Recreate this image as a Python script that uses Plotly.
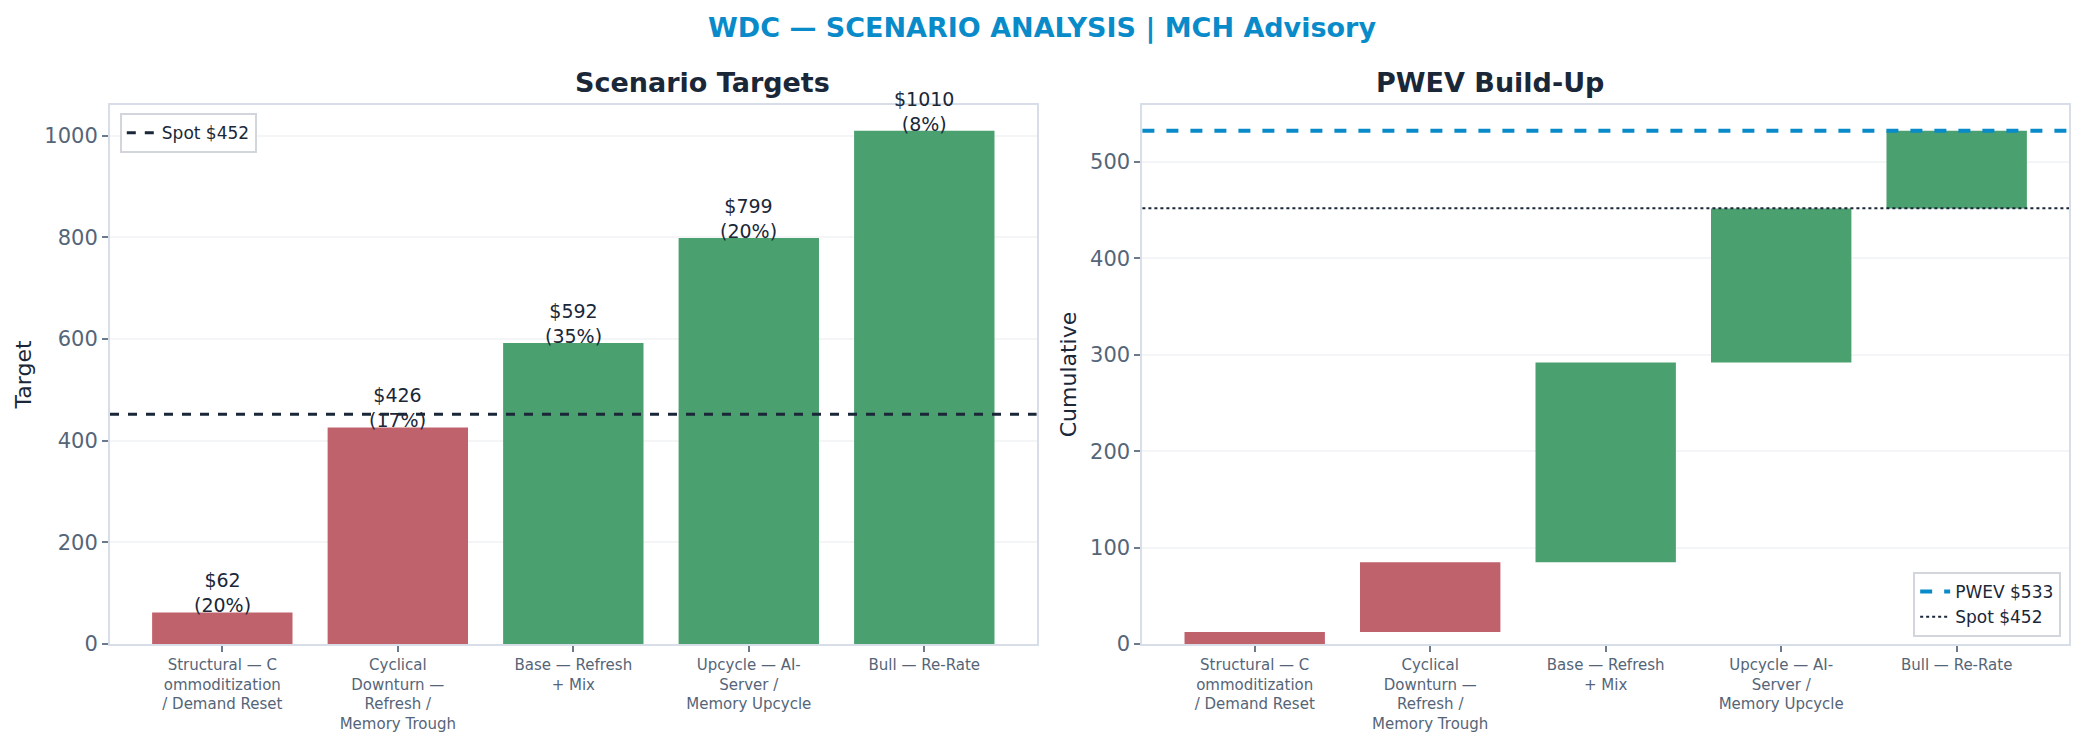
import plotly.graph_objects as go
from plotly.subplots import make_subplots

# scenario data
scenarios = [
    "Structural — C<br>ommoditization<br>/ Demand Reset",
    "Cyclical<br>Downturn —<br>Refresh /<br>Memory Trough",
    "Base — Refresh<br>+ Mix",
    "Upcycle — AI-<br>Server /<br>Memory Upcycle",
    "Bull — Re-Rate",
]
targets = [62, 426, 592, 799, 1010]
probs = [0.20, 0.17, 0.35, 0.20, 0.08]
spot = 452

RED = "#c0626c"
GREEN = "#4aa16f"
BLUE = "#0a8bc9"
DARK = "#1a2738"
TICK = "#556578"
SPINE = "#d8dee8"
FONT = "DejaVu Sans"

colors = [RED if t < spot else GREEN for t in targets]
contrib = [t * p for t, p in zip(targets, probs)]
bases = [sum(contrib[:i]) for i in range(len(contrib))]
pwev = sum(contrib)

fig = make_subplots(rows=1, cols=2, horizontal_spacing=0.054)

fig.add_trace(
    go.Bar(x=scenarios, y=targets, marker=dict(color=colors, line=dict(width=0)),
           showlegend=False, hoverinfo="skip"),
    row=1, col=1,
)
for s, t, p in zip(scenarios, targets, probs):
    fig.add_annotation(
        x=s, y=t, xref="x", yref="y", text=f"${t}<br>({p:.0%})",
        showarrow=False, yanchor="bottom", yshift=-6,
        font=dict(size=19, color=DARK, family=FONT),
    )

fig.add_trace(
    go.Bar(x=scenarios, y=contrib, base=bases, marker=dict(color=colors, line=dict(width=0)),
           showlegend=False, hoverinfo="skip"),
    row=1, col=2,
)

fig.add_hline(y=spot, row=1, col=1, line=dict(color=DARK, width=3, dash="dash"),
              showlegend=True, name=f"Spot ${spot}", legend="legend")
fig.add_hline(y=pwev, row=1, col=2, line=dict(color=BLUE, width=4, dash="dash"),
              showlegend=True, name=f"PWEV ${pwev:.0f}", legend="legend2", legendrank=1)
fig.add_hline(y=spot, row=1, col=2, line=dict(color=DARK, width=2, dash="dot"),
              showlegend=True, name=f"Spot ${spot}", legend="legend2", legendrank=2)

axis_common = dict(
    showline=True, linecolor=SPINE, linewidth=2, mirror=True,
    ticks="outside", ticklen=6, tickwidth=2, tickcolor="#6b7a8c",
    layer="above traces", zeroline=False, automargin=False,
)
for c in (1, 2):
    fig.update_xaxes(range=[-0.64, 4.64], showgrid=False, tickangle=0,
                     tickfont=dict(size=15, color=TICK, family=FONT),
                     row=1, col=c, **axis_common)
fig.update_yaxes(range=[0, max(targets) * 1.05], dtick=200, row=1, col=1,
                 showgrid=True, gridcolor="rgba(225,229,235,0.4)", gridwidth=2,
                 tickfont=dict(size=21, color=TICK, family=FONT),
                 title=dict(text="Target", font=dict(size=22, color=DARK, family=FONT), standoff=7),
                 **axis_common)
fig.update_yaxes(range=[0, pwev * 1.05], dtick=100, row=1, col=2,
                 showgrid=True, gridcolor="rgba(225,229,235,0.4)", gridwidth=2,
                 tickfont=dict(size=21, color=TICK, family=FONT),
                 title=dict(text="Cumulative", font=dict(size=22, color=DARK, family=FONT), standoff=7),
                 **axis_common)

for i, name in enumerate(["Scenario Targets", "PWEV Build-Up"]):
    dom = fig.layout["xaxis" if i == 0 else "xaxis2"].domain
    fig.add_annotation(
        x=(dom[0] + dom[1]) / 2, y=1, xref="paper", yref="paper",
        text=f"<b>{name}</b>", showarrow=False, yanchor="bottom", yshift=5,
        font=dict(size=27, color=DARK, family=FONT),
    )

# page body keeps an 8px margin, so the figure is 16px smaller than the window
legend_style = dict(bgcolor="white", bordercolor="#d2d6dc", borderwidth=2,
                    font=dict(size=17, color=DARK, family=FONT))
fig.update_layout(
    width=2068, height=726,
    margin=dict(l=102, r=7, t=97, b=90),
    plot_bgcolor="white", paper_bgcolor="white",
    bargap=0.2,
    title=dict(text="<b>WDC — SCENARIO ANALYSIS | MCH Advisory</b>",
               x=0.5, xref="container", y=0.973, yanchor="middle",
               font=dict(size=27, color=BLUE, family=FONT)),
    legend=dict(x=0.005, y=0.985, xanchor="left", yanchor="top", **legend_style),
    legend2=dict(x=0.996, y=0.013, xanchor="right", yanchor="bottom", **legend_style),
)

fig.write_html("out.html")
